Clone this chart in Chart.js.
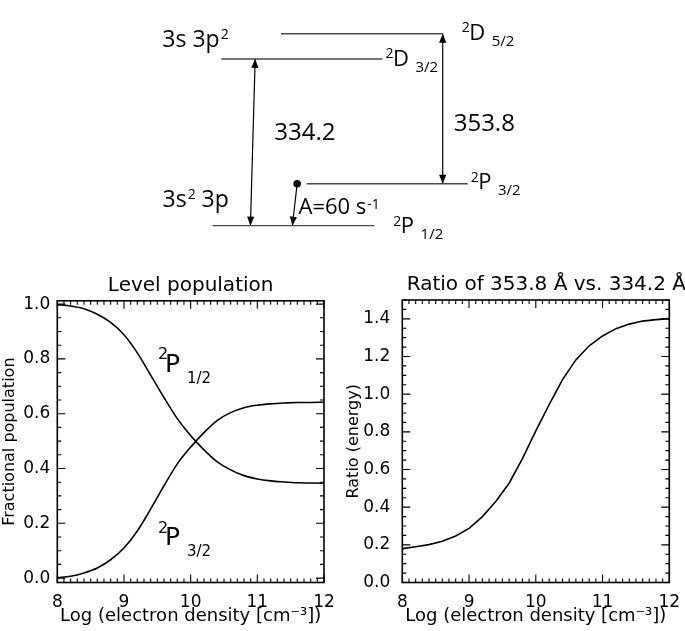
<!DOCTYPE html>
<html>
<head>
<meta charset="utf-8">
<script src="https://cdn.jsdelivr.net/npm/chart.js@4.4.0/dist/chart.umd.min.js"></script>
<style>
  body { margin: 0; background: #fff; }
  #wrap { position: relative; width: 685px; height: 631px; overflow: hidden; }
  canvas { position: absolute; }
</style>
</head>
<body>
<div id="wrap">
  <canvas id="levels" width="685" height="250" style="left:0;top:0"></canvas>
  <canvas id="pop" width="342" height="381" style="left:0;top:250px"></canvas>
  <canvas id="ratio" width="343" height="381" style="left:342px;top:250px"></canvas>
</div>
<script>
// level diagram (schematic units: x 0-100, energy 0-100)
const termLetter = ['P', 'P', 'D', 'D'];
const termJ = ['1/2', '3/2', '3/2', '5/2'];
const levelEnergy = [8.4, 25.7, 77.3, 87.7];
const levelStart = [30.8, 44.7, 32.1, 40.9];
const levelEnd = [54.7, 68.5, 55.9, 64.8];

const transLabel = ['334.2', '353.8', 'A=60 s'];
const transLower = [0, 1, 0];
const transUpper = [2, 3, 1];
const transXLower = [36.4, 64.8, 42.6];
const transXUpper = [37.1, 64.8, 43.3];

// density curves
const logNe = [8.0, 8.2, 8.4, 8.6, 8.8, 9.0, 9.2, 9.4, 9.6, 9.8, 10.0,
               10.2, 10.4, 10.6, 10.8, 11.0, 11.2, 11.4, 11.6, 11.8, 12.0];
const popP12 = [0.998, 0.993, 0.983, 0.963, 0.933, 0.888, 0.822, 0.741, 0.659, 0.582, 0.520,
                0.468, 0.424, 0.395, 0.374, 0.362, 0.355, 0.351, 0.348, 0.347, 0.346];
const popP32 = [0.002, 0.007, 0.019, 0.037, 0.067, 0.110, 0.172, 0.252, 0.337, 0.417, 0.478,
                0.531, 0.576, 0.604, 0.622, 0.631, 0.636, 0.639, 0.641, 0.641, 0.642];
const ratio = [0.180, 0.190, 0.201, 0.219, 0.247, 0.287, 0.350, 0.430, 0.527, 0.658, 0.805,
               0.945, 1.077, 1.182, 1.257, 1.309, 1.348, 1.372, 1.388, 1.396, 1.401];

Chart.defaults.font.family = '"DejaVu Sans", sans-serif';
Chart.defaults.color = '#000';

const DIAG_FONT = '"Open Sans", sans-serif';

function drawTerm(ctx, x, y, letter, sub) {
    ctx.font = '14px ' + DIAG_FONT;
    ctx.fillText('2', x, y - 7.5);
    ctx.font = '22px ' + DIAG_FONT;
    ctx.fillText(letter, x + 7.5, y);
    const w = ctx.measureText(letter).width;
    ctx.font = '15px ' + DIAG_FONT;
    ctx.fillText(sub, x + 7.5 + w + 6.5, y + 6);
}

// arrow heads + text for the level diagram
const levelDecor = {
    id: 'levelDecor',
    afterDatasetsDraw(chart) {
        const {ctx, scales: {x, y}} = chart;
        const px = v => x.getPixelForValue(v);
        const py = v => y.getPixelForValue(v);
        ctx.save();
        ctx.fillStyle = '#000';
        ctx.textAlign = 'left';
        ctx.textBaseline = 'alphabetic';

        chart.data.datasets.forEach((ds, i) => {
            if (!ds.heads) return;
            const pts = chart.getDatasetMeta(i).data;
            ds.heads.forEach(k => {
                const tip = pts[k], from = pts[1 - k];
                const ang = Math.atan2(tip.y - from.y, tip.x - from.x);
                ctx.save();
                ctx.translate(tip.x, tip.y);
                ctx.rotate(ang);
                ctx.beginPath();
                ctx.moveTo(0, 0);
                ctx.lineTo(-9, -3.6);
                ctx.lineTo(-9, 3.6);
                ctx.closePath();
                ctx.fill();
                ctx.restore();
            });
        });

        const termOffset = [[19, 7.7], [3, 5.3], [3, 6.6], [19, 6]];
        termLetter.forEach((l, i) => {
            drawTerm(ctx, px(levelEnd[i]) + termOffset[i][0], py(levelEnergy[i]) + termOffset[i][1], l, termJ[i]);
        });

        // configurations
        let bx = px(levelStart[0]) - 50, by = py(levelEnergy[0]) - 18.3;
        ctx.font = '23px ' + DIAG_FONT;
        ctx.fillText('3s', bx, by);
        let w = ctx.measureText('3s').width;
        ctx.font = '14px ' + DIAG_FONT;
        ctx.fillText('2', bx + w + 1, by - 8);
        w += 1 + ctx.measureText('2').width;
        ctx.font = '23px ' + DIAG_FONT;
        ctx.fillText(' 3p', bx + w, by);

        bx = px(levelStart[2]) - 59; by = py(levelEnergy[2]) - 11.7;
        ctx.fillText('3s 3p', bx, by);
        w = ctx.measureText('3s 3p').width;
        ctx.font = '14px ' + DIAG_FONT;
        ctx.fillText('2', bx + w + 1, by - 8);

        // transition labels, placed from the arrow midpoints
        const labOffset = [[21.5, -2.8], [11, 21.8], [3.7, 9.3]];
        transLabel.forEach((t, i) => {
            const mx = (px(transXLower[i]) + px(transXUpper[i])) / 2;
            const my = (py(levelEnergy[transLower[i]]) + py(levelEnergy[transUpper[i]])) / 2;
            const tx = mx + labOffset[i][0], ty = my + labOffset[i][1];
            if (i < 2) {
                ctx.font = '24px ' + DIAG_FONT;
                ctx.fillText(t, tx, ty);
            } else {
                ctx.font = '22px ' + DIAG_FONT;
                ctx.fillText(t, tx, ty);
                const tw = ctx.measureText(t).width;
                ctx.font = '14px ' + DIAG_FONT;
                ctx.fillText('-1', tx + tw + 1, ty - 5);
            }
        });
        ctx.restore();
    }
};

const levelSets = termLetter.map((l, i) => ({
    data: [{x: levelStart[i], y: levelEnergy[i]}, {x: levelEnd[i], y: levelEnergy[i]}],
    showLine: true,
    borderColor: '#4a4a4a',
    borderWidth: 1.4,
    pointRadius: 0
}));

const transSets = transLabel.map((t, i) => ({
    data: [{x: transXLower[i], y: levelEnergy[transLower[i]]}, {x: transXUpper[i], y: levelEnergy[transUpper[i]]}],
    showLine: true,
    borderColor: '#000',
    borderWidth: 1.2,
    pointRadius: i === 2 ? [0, 3.8] : 0,
    pointBackgroundColor: '#000',
    pointBorderWidth: 0,
    heads: i === 2 ? [0] : [0, 1]
}));

new Chart(document.getElementById('levels'), {
    type: 'scatter',
    data: {datasets: levelSets.concat(transSets)},
    options: {
        responsive: false,
        animation: false,
        layout: {padding: 0},
        plugins: {legend: {display: false}, tooltip: {enabled: false}},
        scales: {
            x: {type: 'linear', min: 0, max: 100, display: false},
            y: {type: 'linear', min: 0, max: 100, display: false}
        }
    },
    plugins: [levelDecor]
});

// IDL style frame: box with inward ticks on all four sides
const idlFrame = {
    id: 'idlFrame',
    afterDraw(chart, args, opts) {
        const {ctx, chartArea: a, scales: {x, y}} = chart;
        ctx.save();
        ctx.strokeStyle = '#000';
        ctx.lineWidth = 1.1;
        ctx.beginPath();
        const mark = (scale, v, len) => {
            const p = scale.getPixelForValue(v);
            if (scale.isHorizontal()) {
                ctx.moveTo(p, a.bottom); ctx.lineTo(p, a.bottom - len);
                ctx.moveTo(p, a.top); ctx.lineTo(p, a.top + len);
            } else {
                ctx.moveTo(a.left, p); ctx.lineTo(a.left + len, p);
                ctx.moveTo(a.right, p); ctx.lineTo(a.right - len, p);
            }
        };
        [[x, opts.xMinor], [y, opts.yMinor]].forEach(([s, step]) => {
            s.ticks.forEach(t => mark(s, t.value, 8));
            for (let k = Math.ceil(s.min / step - 1e-6); k * step <= s.max + 1e-6; k++) {
                mark(s, k * step, 4);
            }
        });
        ctx.stroke();
        ctx.lineWidth = 1.6;
        ctx.strokeRect(a.left, a.top, a.right - a.left, a.bottom - a.top);

        // plot title
        ctx.fillStyle = '#000';
        ctx.font = '20px "DejaVu Sans"';
        ctx.textBaseline = 'alphabetic';
        if (opts.titleAlign === 'left') {
            ctx.textAlign = 'left';
            ctx.fillText(opts.title, a.left + 4.4, a.top - 10);
        } else {
            ctx.textAlign = 'center';
            ctx.fillText(opts.title, (a.left + a.right) / 2, a.top - 10);
        }

        // curve labels
        (opts.labels || []).forEach(lb => {
            const x0 = x.getPixelForValue(lb.x), yb = y.getPixelForValue(lb.y);
            ctx.textAlign = 'left';
            ctx.font = '16px "DejaVu Sans"';
            ctx.fillText('2', x0, yb - 12.3);
            ctx.font = '25px "DejaVu Sans"';
            ctx.fillText('P', x0 + 7, yb);
            ctx.font = '15px "DejaVu Sans"';
            ctx.fillText(lb.sub, x0 + 29, yb + 11);
        });
        ctx.restore();
    }
};

function densityChart(id, datasets, yMin, yMax, yTitle, yPad, yWidth, padTop, padRight, title, titleAlign, labels, yTitlePad) {
    return new Chart(document.getElementById(id), {
        type: 'line',
        data: {datasets: datasets},
        options: {
            responsive: false,
            animation: false,
            layout: {padding: {top: padTop, right: padRight, left: 0, bottom: 0}},
            plugins: {
                legend: {display: false},
                tooltip: {enabled: false},
                idlFrame: {xMinor: 0.1, yMinor: 0.05, title: title, titleAlign: titleAlign, labels: labels}
            },
            scales: {
                x: {
                    type: 'linear', min: 8, max: 12,
                    grid: {display: false, drawTicks: false},
                    border: {display: false},
                    ticks: {stepSize: 1, padding: 10, maxRotation: 0, includeBounds: false, font: {size: 17}},
                    title: {display: true, text: 'Log (electron density [cm⁻³])', font: {size: 18}, padding: {top: 0, bottom: 4}},
                    afterFit: s => { s.height = 48.5; s.paddingLeft = 0; s.paddingRight = 0; }
                },
                y: {
                    type: 'linear', min: yMin, max: yMax,
                    grid: {display: false, drawTicks: false},
                    border: {display: false},
                    ticks: {stepSize: 0.2, padding: yPad, includeBounds: false, font: {size: 17},
                            callback: v => v.toFixed(1)},
                    title: {display: true, text: yTitle, font: {size: 16}, padding: {top: yTitlePad, bottom: 0}},
                    afterFit: s => { s.width = yWidth; }
                }
            }
        },
        plugins: [idlFrame]
    });
}

const curve = (vals, smooth) => ({
    data: logNe.map((v, i) => ({x: v, y: vals[i]})),
    borderColor: '#000',
    borderWidth: 1.6,
    pointRadius: 0,
    fill: false,
    cubicInterpolationMode: smooth ? 'monotone' : 'default',
    tension: 0
});

densityChart('pop', [curve(popP12, true), curve(popP32, true)], -0.016, 1.012,
    'Fractional population', 7, 57.3, 50.8, 18, 'Level population', 'center',
    [{x: 9.51, y: 0.753, sub: '1/2'}, {x: 9.51, y: 0.1215, sub: '3/2'}], 0.5);

densityChart('ratio', [curve(ratio, false)], 0, 1.5,
    'Ratio (energy)', 12, 60.3, 50, 15.7, 'Ratio of 353.8 Å vs. 334.2 Å', 'left', [], 2.5);
</script>
</body>
</html>
